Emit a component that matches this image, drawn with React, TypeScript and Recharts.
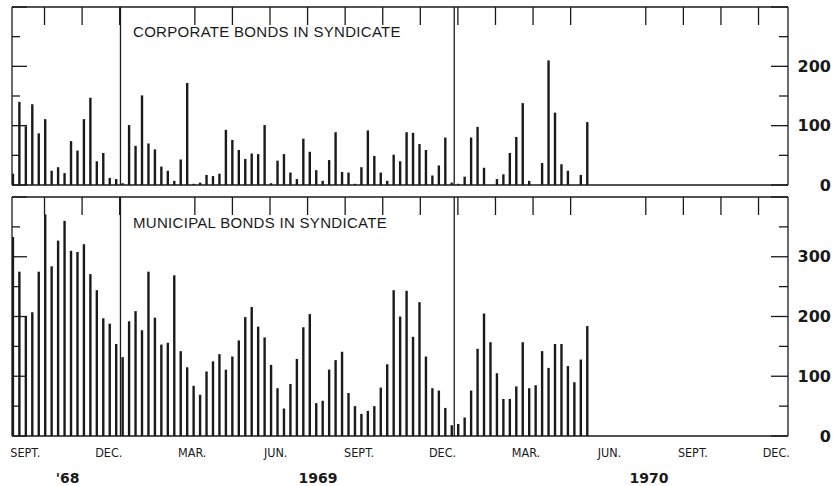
import React from 'react';
import { BarChart, Bar, XAxis, YAxis, ReferenceLine } from 'recharts';

// weekly volume in syndicate, millions of dollars — first week of Sept. 1968 to late May 1970
const corporate = [
  19, 140, 99, 136, 87, 111, 24, 30, 20, 74, 58, 111, 147, 40, 54, 12, 10, 3,
  101, 66, 151, 70, 60, 31, 24, 7, 43, 172, 2, 4, 17, 15, 19, 93, 76, 59, 44, 53, 52, 101,
  3, 41, 52, 21, 10, 78, 56, 25, 7, 42, 89, 22, 21, 2, 30, 92, 49, 21, 7, 51, 40, 89, 88, 69,
  59, 16, 33, 80, 4, 2, 14, 80, 98, 29, 0, 10, 18, 54, 81, 138, 7, 0, 37, 210, 122, 35, 24, 0,
  17, 106,
];
const municipal = [
  333, 275, 200, 207, 275, 371, 284, 327, 360, 310, 308, 321, 271, 244, 197, 188, 154, 132,
  192, 209, 177, 275, 198, 153, 156, 269, 142, 115, 84, 69, 108, 125, 137, 111, 133, 160, 199,
  216, 183, 165, 119, 80, 46, 87, 129, 182, 204, 55, 59, 111, 127, 141, 72, 50, 37, 42, 50, 81,
  120, 244, 200, 243, 166, 224, 133, 80, 76, 47, 18, 20, 31, 76, 146, 205, 157, 105, 62, 62, 83,
  157, 80, 85, 142, 114, 154, 154, 117, 90, 128, 184,
];
const weeks = corporate.map((_, i) => i);

const monthNames = ['SEPT.', 'DEC.', 'MAR.', 'JUN.', 'SEPT.', 'DEC.', 'MAR.', 'JUN.', 'SEPT.', 'DEC.'];
const yearNames = ["'68", '1969', '1970'];
const yearAt = [2.1, 11.1, 23.0]; // months after Sept. 1, 1968

const corpData = weeks.map((w, i) => ({ w, v: corporate[i] }));
const muniData = weeks.map((w, i) => ({ w, v: municipal[i] }));

// calendar -> week axis
const WPM = 4.31;
const OFF = -0.58;
const wk = (m: number) => m * WPM + OFF;
const xDomain = [wk(0.1), wk(28)];
const monthTicks = Array.from({ length: 27 }, (_, i) => i + 1).filter((m) => m !== 4 && m !== 16).map(wk);
const yearLines = [wk(4), wk(16)];
const labelTicks = monthNames.map((_, i) => wk(i * 3 + 0.58));
const yearTicks = yearAt.map(wk);
const bottomTicks = [...labelTicks, ...yearTicks].sort((a, b) => a - b);

const INK = '#1a1a1a';
const X0 = 12;
const X1 = 788;
const TOP = 7;

const LeftTick = ({ y, payload }: any) => {
  const len = payload.value % 100 === 0 ? 15 : 8;
  return <line x1={X0} x2={X0 + len} y1={y} y2={y} stroke={INK} strokeWidth={1.3} />;
};

const makeRightTick = (max: number) => ({ y, payload }: any) => {
  const major = payload.value % 100 === 0;
  return (
    <g>
      <line x1={X1 - (major ? 17 : 9)} x2={X1} y1={y} y2={y} stroke={INK} strokeWidth={1.3} />
      {major && payload.value < max && (
        <text x={831} y={y} textAnchor="end" dominantBaseline="central" fill={INK}
          style={{ fontFamily: 'DejaVu Sans', fontWeight: 700, fontSize: 16 }}>
          {payload.value}
        </text>
      )}
    </g>
  );
};

const TopTick = ({ x }: any) => {
  if (!(x > X0 + 5 && x < X1 - 5)) return <g />;
  return <line x1={x} x2={x} y1={TOP} y2={TOP + 18} stroke={INK} strokeWidth={1.3} />;
};

const near = (list: number[], v: number) => list.findIndex((t) => Math.abs(t - v) < 1e-6);

const BottomTick = ({ x, payload }: any) => {
  const m = near(labelTicks, payload.value);
  if (m >= 0) {
    return (
      <text x={x} y={267} textAnchor="middle" fill={INK}
        style={{ fontFamily: 'DejaVu Sans Condensed', fontSize: 12.5 }}>
        {monthNames[m]}
      </text>
    );
  }
  const y = near(yearTicks, payload.value);
  return (
    <text x={x} y={293} textAnchor="middle" fill={INK}
      style={{ fontFamily: 'DejaVu Sans', fontWeight: 700, fontSize: 14 }}>
      {yearNames[y]}
    </text>
  );
};

const frame = { stroke: INK, strokeWidth: 1.3 };

function Panel({ data, max, height, bottom, labels }: any) {
  const ticks = Array.from({ length: max / 50 + 1 }, (_, i) => i * 50);
  // axes get 1px of room each so that they are drawn; margins take it back
  return (
    <BarChart width={834} height={height} data={data}
      margin={{ top: TOP - 1, right: 0, bottom: bottom - 1, left: X0 - 1 }}>
      <XAxis xAxisId="w" dataKey="w" type="number" domain={xDomain} allowDataOverflow height={1}
        axisLine={frame} tickLine={false}
        ticks={labels ? bottomTicks : []} interval={0} tick={labels ? BottomTick : false} />
      <XAxis xAxisId="m" orientation="top" type="number" domain={xDomain} allowDataOverflow height={1}
        axisLine={frame} tickLine={false}
        ticks={monthTicks} interval={0} tick={TopTick} />
      <YAxis yAxisId="v" orientation="right" width={46} domain={[0, max]} allowDataOverflow
        ticks={ticks} interval={0} tickLine={false} axisLine={frame}
        tick={makeRightTick(max)} />
      <YAxis yAxisId="l" orientation="left" width={1} domain={[0, max]} allowDataOverflow
        ticks={ticks} interval={0} tickLine={false} axisLine={frame}
        tick={LeftTick} />
      {yearLines.map((x) => (
        <ReferenceLine key={x} x={x} xAxisId="w" yAxisId="v" stroke={INK} strokeWidth={1.3} />
      ))}
      <Bar dataKey="v" xAxisId="w" yAxisId="v" barSize={2.4} fill={INK} isAnimationActive={false} />
    </BarChart>
  );
}

const titleStyle: React.CSSProperties = {
  position: 'absolute',
  left: 133,
  fontFamily: '"Liberation Sans", Arial, sans-serif',
  fontSize: 15,
  letterSpacing: 0.3,
  lineHeight: '15px',
  color: INK,
  whiteSpace: 'nowrap',
};

export default function App() {
  return (
    <div style={{ position: 'absolute', left: 0, top: 0, width: 834, height: 486, background: '#fff', overflow: 'hidden' }}>
      <div style={{ position: 'absolute', left: 0, top: 0 }}>
        <Panel data={corpData} max={300} height={195} bottom={10} labels={false} />
      </div>
      <div style={{ position: 'absolute', left: 0, top: 190 }}>
        <Panel data={muniData} max={400} height={296} bottom={50} labels={true} />
      </div>
      <div style={{ ...titleStyle, top: 24 }}>CORPORATE BONDS IN SYNDICATE</div>
      <div style={{ ...titleStyle, top: 215 }}>MUNICIPAL BONDS IN SYNDICATE</div>
    </div>
  );
}
